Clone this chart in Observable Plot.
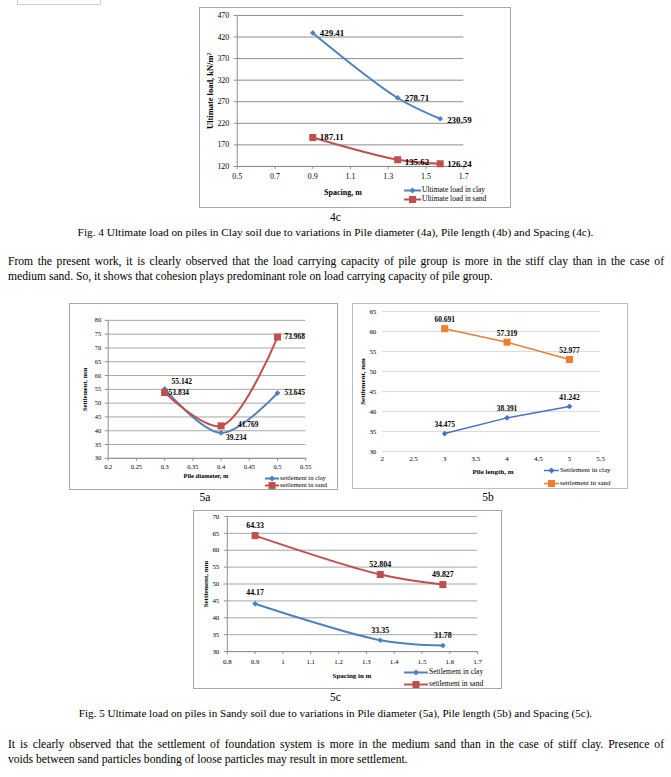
<!DOCTYPE html>
<html><head><meta charset="utf-8">
<script src="https://cdn.jsdelivr.net/npm/d3@7"></script>
<script src="https://cdn.jsdelivr.net/npm/@observablehq/plot@0.6"></script>
<style>
body{margin:0;background:#fff;width:671px;height:777px;position:relative;overflow:hidden;font-family:"Liberation Serif","Times New Roman",serif;color:#000}
.box{position:absolute;border:1px solid #a6a6a6;box-sizing:border-box;background:#fff}
.box svg{position:absolute;left:-1px;top:-1px;overflow:visible;background:none}
.legend{position:absolute;white-space:nowrap;font-family:"Liberation Serif",serif}
.legend .row{position:absolute;display:flex;align-items:center;left:0}
.legend svg{position:static}
.t{position:absolute;white-space:nowrap;font-size:11.5px;line-height:14px}
.c{left:0;width:671px;text-align:center}
.p{left:8px;width:656px;text-align:justify;font-size:11.6px;line-height:14px}
.p.j{text-align-last:justify}
</style></head><body>
<script>
// ---------- data ----------
const spacing = [0.9, 1.35, 1.575];
const loadClay = [429.41, 278.71, 230.59];
const loadSand = [187.11, 135.62, 126.24];

const diameter = [0.3, 0.4, 0.5];
const settleDiaClay = [55.142, 39.234, 53.645];
const settleDiaSand = [53.834, 41.769, 73.968];

const pileLength = [3, 4, 5];
const settleLenClay = [34.475, 38.391, 41.242];
const settleLenSand = [60.691, 57.319, 52.977];

const spacing5c = [0.9, 1.35, 1.575];
const settleSpClay = [44.17, 33.35, 31.78];
const settleSpSand = [64.33, 52.804, 49.827];

const ticks4cX = [0.5, 0.7, 0.9, 1.1, 1.3, 1.5, 1.7];
const ticks4cY = [120, 170, 220, 270, 320, 370, 420, 470];
const ticks5aX = [0.2, 0.25, 0.3, 0.35, 0.4, 0.45, 0.5, 0.55];
const ticks5aY = [30, 35, 40, 45, 50, 55, 60, 65, 70, 75, 80];
const ticks5bX = [2, 2.5, 3, 3.5, 4, 4.5, 5, 5.5];
const ticks5bY = [30, 35, 40, 45, 50, 55, 60, 65];
const ticks5cX = [0.8, 0.9, 1, 1.1, 1.2, 1.3, 1.4, 1.5, 1.6, 1.7];
const ticks5cY = [30, 35, 40, 45, 50, 55, 60, 65, 70];

const legend4c = ["Ultimate load in clay", "Ultimate load in sand"];
const legend5a = ["settlement in clay", "settlement in sand"];
const legend5b = ["Settlement in clay", "settlement in sand"];
const legend5c = ["Settlement in clay", "settlement in sand"];

// ---------- styles ----------
const BLUE = "#4F81BD", RED = "#C0504D", BLUE2 = "#4472C4", ORANGE = "#ED7D31";
const fmt = d => String(+d.toFixed(2));

function el(tag, cls, parent) { const e = document.createElement(tag); if (cls) e.className = cls; (parent || document.body).appendChild(e); return e; }

function markerSvg(color, shape, lw, lineLen) {
  const h = 9, cx = lineLen / 2, cy = h / 2;
  const m = shape === "square"
    ? `<rect x="${cx - 3.5}" y="${cy - 3.5}" width="7" height="7" fill="${color}"/>`
    : `<polygon points="${cx},${cy - 3} ${cx + 3},${cy} ${cx},${cy + 3} ${cx - 3},${cy}" fill="${color}"/>`;
  return `<svg width="${lineLen}" height="${h}" style="position:static;display:block"><line x1="0" x2="${lineLen}" y1="${cy}" y2="${cy}" stroke="${color}" stroke-width="${lw}"/>${m}</svg>`;
}

function chart(c) {
  const [bl, bt, br, bb] = c.box;          // page coords of the box
  const [pl, pt, pr, pb] = c.plot;         // page coords of the plot frame
  const W = br - bl, H = bb - bt;
  const box = el("div", "box");
  Object.assign(box.style, { left: bl + "px", top: bt + "px", width: W + "px", height: H + "px", borderColor: c.border });

  const marks = [
    Plot.gridY(c.yTicks, { stroke: c.grid, strokeOpacity: 1, strokeWidth: 1 }),
  ];
  if (c.axisLines) {
    marks.push(Plot.ruleX([c.xDomain[0]], { stroke: c.axisColor, strokeWidth: 1 }));
    marks.push(Plot.ruleY([c.yDomain[0]], { stroke: c.axisColor, strokeWidth: 1 }));
  }
  marks.push(
    Plot.axisX(c.xTicks, { label: null, tickFormat: fmt, tickSize: c.axisLines ? 3 : 0, tickPadding: c.xPad, stroke: c.axisColor, fontSize: c.tickFont, fill: "#000" }),
    Plot.axisY(c.yTicks, { label: null, tickFormat: fmt, tickSize: c.axisLines ? 3 : 0, tickPadding: c.yPad, stroke: c.axisColor, fontSize: c.tickFont, fill: "#000" })
  );
  c.series.forEach(s => {
    const data = s.y.map((v, i) => ({ x: c.x[i], y: v }));
    marks.push(Plot.line(data, { x: "x", y: "y", stroke: s.color, strokeWidth: s.lw, curve: c.curve }));
    marks.push(Plot.dot(data, { x: "x", y: "y", symbol: s.shape === "square" ? "square" : "diamond2", r: s.shape === "square" ? 4 : 2.6, fill: s.color, stroke: "none" }));
    data.forEach((d, i) => {
      const o = s.offs[i];
      marks.push(Plot.text([d], { x: "x", y: "y", text: () => String(d.y), dx: o[0], dy: o[1], textAnchor: o[2] || "start", fontWeight: "bold", fontSize: c.labelFont, fill: "#000" }));
    });
  });
  marks.push(Plot.text([c.yTitle], { frameAnchor: "left", dx: -(pl - c.yTitleX), dy: c.yTitleDy || 0, rotate: -90, textAnchor: "middle", fontWeight: "bold", fontSize: c.yTitleFont || c.titleFont, fill: "#000" }));

  const svg = Plot.plot({
    width: W, height: H,
    marginLeft: pl - bl, marginRight: br - pr, marginTop: pt - bt, marginBottom: bb - pb,
    x: { domain: c.xDomain, label: null },
    y: { domain: c.yDomain, label: null },
    style: { fontFamily: '"Liberation Serif", serif', fontSize: c.tickFont + "px", background: "none", overflow: "visible" },
    marks
  });
  box.appendChild(svg);

  // x title
  const xt = el("div", "legend", box);
  Object.assign(xt.style, { left: (c.xTitle[1] - bl - 60) + "px", width: "120px", textAlign: "center", top: (c.xTitle[2] - bt - 6) + "px", fontSize: c.titleFont + "px", fontWeight: "bold", lineHeight: "12px" });
  xt.textContent = c.xTitle[0];

  // legend
  const lg = el("div", "legend", box);
  Object.assign(lg.style, { left: (c.legend.x - bl) + "px", top: "0px", fontSize: c.legend.font + "px" });
  c.series.forEach((s, i) => {
    const row = el("div", "row", lg);
    row.style.top = (c.legend.ys[i] - bt - 5) + "px";
    row.style.height = "10px";
    row.innerHTML = markerSvg(s.color, s.shape, s.lw, c.legend.len) + `<span style="margin-left:1px;line-height:10px">${c.legend.labels[i]}</span>`;
  });
}

// top-left fragment of a previous figure
const frag = el("div", "box");
Object.assign(frag.style, { left: "17px", top: "-2px", width: "84px", height: "7px", borderColor: "#d0d0d0" });

// ---------- Fig 4c ----------
chart({
  box: [199, 7, 511, 208], plot: [237, 15, 465, 167],
  xDomain: [0.5, 1.7], yDomain: [120, 470], xTicks: ticks4cX, yTicks: ticks4cY,
  x: spacing, curve: "catmull-rom", border: "#a6a6a6", grid: "#8c8c8c", axisColor: "#8c8c8c", axisLines: true,
  tickFont: 8, labelFont: 9, titleFont: 8, yTitleFont: 8.5, xPad: 4, yPad: 5,
  series: [
    { y: loadClay, color: BLUE, shape: "diamond", lw: 2, offs: [[7, 0], [7, 0], [7, 1]] },
    { y: loadSand, color: RED, shape: "square", lw: 2, offs: [[7, 0], [7, 2], [7, 0]] }
  ],
  yTitle: "Ultimate load, kN/m²", yTitleX: 210,
  xTitle: ["Spacing, m", 342, 192],
  legend: { x: 403, ys: [189, 198], len: 17, font: 7.5, labels: legend4c }
});

// ---------- Fig 5a ----------
chart({
  box: [69, 303, 338, 490], plot: [108, 320, 307, 459],
  xDomain: [0.2, 0.55], yDomain: [30, 80], xTicks: ticks5aX, yTicks: ticks5aY,
  x: diameter, curve: "catmull-rom", border: "#a6a6a6", grid: "#a6a6a6", axisColor: "#8c8c8c", axisLines: true,
  tickFont: 6.5, labelFont: 7.5, titleFont: 6.5, xPad: 3, yPad: 4,
  series: [
    { y: settleDiaClay, color: BLUE, shape: "diamond", lw: 2, offs: [[7, -7], [5, 5], [7, 0]] },
    { y: settleDiaSand, color: RED, shape: "square", lw: 2, offs: [[4, 0], [17, -1], [7, 0]] }
  ],
  yTitle: "Settlement, mm", yTitleX: 85,
  xTitle: ["Pile diameter, m", 205, 475],
  legend: { x: 264, ys: [477, 484], len: 14, font: 6.5, labels: legend5a }
});

// ---------- Fig 5b ----------
chart({
  box: [352, 303, 628, 489], plot: [382, 311, 602, 452],
  xDomain: [2, 5.5], yDomain: [30, 65], xTicks: ticks5bX, yTicks: ticks5bY,
  x: pileLength, curve: "linear", border: "#bfbfbf", grid: "#d9d9d9", axisColor: "#d9d9d9", axisLines: false,
  tickFont: 7, labelFont: 7.5, titleFont: 7, xPad: 5, yPad: 6,
  series: [
    { y: settleLenClay, color: BLUE2, shape: "diamond", lw: 1.5, offs: [[0, -9, "middle"], [0, -9, "middle"], [0, -9, "middle"]] },
    { y: settleLenSand, color: ORANGE, shape: "square", lw: 1.5, offs: [[0, -9, "middle"], [0, -9, "middle"], [0, -9, "middle"]] }
  ],
  yTitle: "Settlement, mm", yTitleX: 362,
  xTitle: ["Pile length, m", 492, 471],
  legend: { x: 543, ys: [469, 482], len: 15, font: 7, labels: legend5b }
});

// ---------- Fig 5c ----------
chart({
  box: [193, 510, 502, 689], plot: [227, 516, 479, 652],
  xDomain: [0.8, 1.7], yDomain: [30, 70], xTicks: ticks5cX, yTicks: ticks5cY,
  x: spacing5c, curve: "catmull-rom", border: "#a6a6a6", grid: "#a6a6a6", axisColor: "#8c8c8c", axisLines: true,
  tickFont: 7, labelFont: 8, titleFont: 7, xPad: 5, yPad: 5,
  series: [
    { y: settleSpClay, color: BLUE, shape: "diamond", lw: 2, offs: [[0, -11, "middle"], [0, -10, "middle"], [0, -10, "middle"]] },
    { y: settleSpSand, color: RED, shape: "square", lw: 2, offs: [[0, -10, "middle"], [0, -10, "middle"], [0, -10, "middle"]] }
  ],
  yTitle: "Settlement, mm", yTitleX: 205,
  xTitle: ["Spacing in m", 351, 675],
  legend: { x: 403, ys: [671, 683], len: 24, font: 7.5, labels: legend5c }
});

// ---------- text ----------
function text(cls, top, str, extra) { const e = el("div", "t " + cls); e.style.top = top + "px"; e.textContent = str; if (extra) Object.assign(e.style, extra); return e; }
text("c", 210, "4c");
text("c", 225, "Fig. 4 Ultimate load on piles in Clay soil due to variations in Pile diameter (4a), Pile length (4b) and Spacing (4c).", { fontSize: "11.3px" });
text("p j", 255, "From the present work, it is clearly observed that the load carrying capacity of pile group is more in the stiff clay than in the case of");
text("p", 270, "medium sand. So, it shows that cohesion plays predominant role on load carrying capacity of pile group.");
text("", 490, "5a", { left: "195px", width: "20px", textAlign: "center" });
text("", 490, "5b", { left: "478px", width: "20px", textAlign: "center" });
text("c", 690, "5c");
text("c", 706, "Fig. 5 Ultimate load on piles in Sandy soil due to variations in Pile diameter (5a), Pile length (5b) and Spacing (5c).", { fontSize: "11.1px" });
text("p j", 738, "It is clearly observed that the settlement of foundation system is more in the medium sand than in the case of stiff clay. Presence of");
text("p", 753, "voids between sand particles bonding of loose particles may result in more settlement.");
</script>
</body></html>
